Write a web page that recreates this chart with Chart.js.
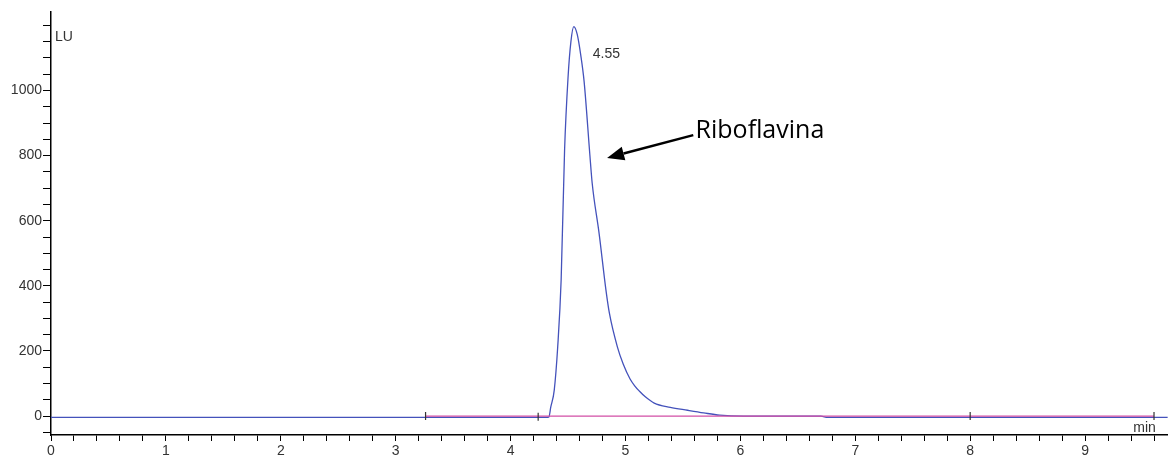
<!DOCTYPE html>
<html>
<head>
<meta charset="utf-8">
<title>Riboflavina</title>
<script src="https://cdn.jsdelivr.net/npm/chart.js@4.4.1/dist/chart.umd.min.js"></script>
<style>
    html, body { margin: 0; padding: 0; background: #fff; }
    #wrap { width: 1173px; height: 456px; }
</style>
</head>
<body>
<div id="wrap"><canvas id="chromatogram"></canvas></div>
<script>
// Fluorescence trace (min, LU)
const times  = [0, 4.30, 4.333, 4.35, 4.38, 4.41, 4.44, 4.47, 4.50, 4.525, 4.55, 4.58, 4.61, 4.64, 4.69, 4.71, 4.77, 4.83, 4.86, 4.93, 4.98, 5.04, 5.08, 5.12, 5.17, 5.25, 5.39, 5.54, 5.68, 5.82, 6.03, 6.70, 6.76, 9.72];
const signal = [-4, -4, -3, 28, 80, 212, 418, 818, 1040, 1150, 1196, 1172, 1110, 1027, 802, 716, 562, 387, 316, 212, 160, 114, 93, 77, 60, 40, 27, 18, 10, 3, 0, 0, -4, -4];

// Integration baseline and its event marks
const baseTimes  = [3.26, 9.60];
const baseValues = [0, 0];
const markTimes  = [3.26, 4.24, 8.00, 9.60];
const markValues = [0, -2, 0, 0];

// Peak annotation
const peakTime = 4.55;
const peakValue = 1196;
const peakName = 'Riboflavina';

// Axis ranges and labelled ticks
const xMin = 0, xMax = 9.72;
const yMin = -58, yMax = 1241;
const xLabels = [0, 1, 2, 3, 4, 5, 6, 7, 8, 9];
const yLabels = [0, 200, 400, 600, 800, 1000];
const xMinorStep = 0.2;
const yMinorStep = 50;

const toXY = (xs, ys) => xs.map((x, i) => ({ x: x, y: ys[i] }));

// tick marks every minor step, labels only where listed
function buildTicks(scale, step, labels) {
    const ticks = [];
    const first = Math.ceil(scale.min / step - 1e-9);
    const last = Math.floor(scale.max / step + 1e-9);
    for (let i = first; i <= last; i++) {
        const v = Math.round(i * step * 1000) / 1000;
        ticks.push({ value: v, label: labels.includes(v) ? String(v) : '' });
    }
    scale.ticks = ticks;
}

const annotations = {
    id: 'annotations',
    afterDatasetsDraw(chart) {
        const { ctx, scales: { x, y } } = chart;
        ctx.save();

        // axis units
        ctx.fillStyle = '#333';
        ctx.font = '14px "Liberation Sans", Arial, sans-serif';
        ctx.textBaseline = 'middle';
        ctx.textAlign = 'left';
        ctx.fillText('LU', x.left + 4, y.top + 25);
        ctx.textAlign = 'right';
        ctx.fillText('min', x.right - 12, y.bottom - 7);

        // retention time
        const px = x.getPixelForValue(peakTime);
        const py = y.getPixelForValue(peakValue);
        ctx.textAlign = 'left';
        ctx.fillText(peakTime.toFixed(2), px + 19, py + 27);

        // name with arrow
        const tx = x.getPixelForValue(5.61), ty = y.getPixelForValue(876);
        ctx.fillStyle = '#000';
        ctx.font = '25px "Open Sans", "Noto Sans", sans-serif';
        ctx.fillText(peakName, tx, ty);

        const x0 = x.getPixelForValue(5.59), y0 = y.getPixelForValue(863);
        const x1 = x.getPixelForValue(4.84), y1 = y.getPixelForValue(793);
        const ang = Math.atan2(y1 - y0, x1 - x0);
        const head = 17, half = 7;
        const bx = x1 - head * Math.cos(ang), by = y1 - head * Math.sin(ang);
        ctx.strokeStyle = '#000';
        ctx.lineWidth = 2.5;
        ctx.beginPath();
        ctx.moveTo(x0, y0);
        ctx.lineTo(bx, by);
        ctx.stroke();
        ctx.beginPath();
        ctx.moveTo(x1, y1);
        ctx.lineTo(bx + half * Math.sin(ang), by - half * Math.cos(ang));
        ctx.lineTo(bx - half * Math.sin(ang), by + half * Math.cos(ang));
        ctx.closePath();
        ctx.fill();

        ctx.restore();
    }
};

const tickFont = { family: '"Liberation Sans", Arial, sans-serif', size: 14 };

new Chart(document.getElementById('chromatogram'), {
    type: 'line',
    data: {
        datasets: [{
            label: 'FLD',
            data: toXY(times, signal),
            borderColor: '#4452bb',
            borderWidth: 1.3,
            pointRadius: 0,
            cubicInterpolationMode: 'monotone',
            order: 2
        }, {
            label: 'Baseline',
            data: toXY(baseTimes, baseValues),
            borderColor: '#d24ea6',
            borderWidth: 1.4,
            pointRadius: 0,
            order: 1
        }, {
            label: 'Events',
            type: 'scatter',
            data: toXY(markTimes, markValues),
            pointStyle: 'line',
            rotation: 90,
            radius: 4,
            borderColor: '#333',
            borderWidth: 1.2,
            order: 0
        }]
    },
    options: {
        responsive: true,
        maintainAspectRatio: false,
        animation: false,
        layout: { padding: { top: 12, right: 0, left: 0, bottom: 0 } },
        plugins: {
            legend: { display: false },
            tooltip: { enabled: false }
        },
        scales: {
            x: {
                type: 'linear',
                min: xMin,
                max: xMax,
                afterBuildTicks: s => buildTicks(s, xMinorStep, xLabels),
                afterFit: s => { s.height = 21; },
                border: { display: true, color: '#000', width: 1.5 },
                grid: { drawOnChartArea: false, drawTicks: true, tickLength: 6, color: '#000' },
                ticks: {
                    autoSkip: false,
                    maxRotation: 0,
                    padding: 2,
                    color: '#333',
                    font: tickFont,
                    callback: function (v, i, ticks) { return ticks[i].label; }
                }
            },
            y: {
                type: 'linear',
                min: yMin,
                max: yMax,
                afterBuildTicks: s => buildTicks(s, yMinorStep, yLabels),
                afterFit: s => { s.width = 51; },
                border: { display: true, color: '#000', width: 1.5 },
                grid: { drawOnChartArea: false, drawTicks: true, tickLength: 8, color: '#000' },
                ticks: {
                    autoSkip: false,
                    padding: 1,
                    color: '#333',
                    font: tickFont,
                    callback: function (v, i, ticks) { return ticks[i].label; }
                }
            }
        }
    },
    plugins: [annotations]
});
</script>
</body>
</html>
